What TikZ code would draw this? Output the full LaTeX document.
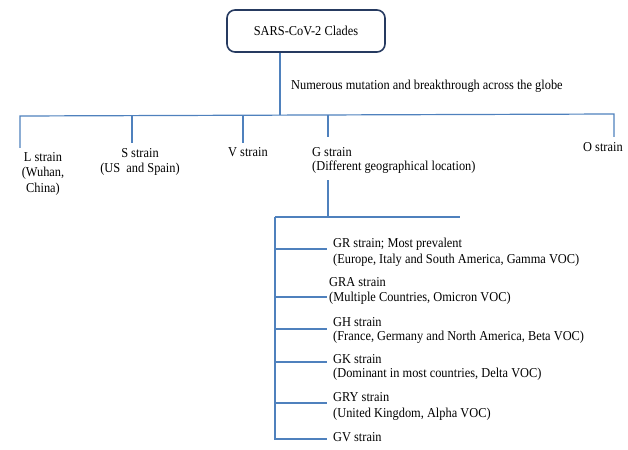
\documentclass[tikz,border=0pt]{standalone}
\usepackage{fontspec}
\setmainfont[FakeStretch=0.91]{Liberation Serif}
\definecolor{linec}{RGB}{79,129,189}
\definecolor{boxc}{RGB}{38,58,96}
\begin{document}
\begin{tikzpicture}[x=1pt,y=-1pt,
  conn/.style={draw=linec,line width=1.2pt},
  lbl/.style={inner sep=0pt,font=\fontsize{13.6}{14.5}\selectfont,text=black},
  lbll/.style={lbl,align=left,anchor=base west},
  lblc/.style={lbl,align=center,anchor=base}]
\useasboundingbox (0,0) rectangle (628,449);
\node[draw=boxc,line width=1.6pt,rounded corners=8pt,minimum width=158pt,minimum height=42pt,font=\fontsize{13.6}{15}\selectfont] (top) at (306,31) {SARS-CoV-2 Clades};
\node[lbll] (mut) at (291,90) {Numerous mutation and breakthrough across the globe};
\coordinate (hub) at (280,115);
\coordinate (Lt) at (20,116);
\coordinate (Ot) at (614,114);
\coordinate (Le) at (20,148);
\coordinate (Se) at (132,143);
\coordinate (Ve) at (243,143);
\coordinate (Ge) at (328,137);
\coordinate (Oe) at (614,137);
\draw[conn] (top.south -| hub) -- (hub);
\draw[conn] (Le) -- (Lt) -- (Ot) -- (Oe);
\draw[conn] (Se) -- (Se |- hub);
\draw[conn] (Ve) -- (Ve |- hub);
\draw[conn] (Ge) -- (Ge |- hub);
\node[lblc,font=\fontsize{13.6}{15.5}\selectfont] (L) at (43,192) {L strain\\(Wuhan,\\China)};
\node[lblc] (S) at (140,172) {S strain\\(US\ \ and Spain)};
\node[lbll] (V) at (228,157) {V strain};
\node[lbll] (G) at (312,171) {G strain\\(Different geographical location)};
\node[lbll] (O) at (583,152) {O strain};
\coordinate (Gs) at (328,180);
\coordinate (Gh) at (328,217);
\coordinate (Gl) at (275,217);
\coordinate (Gr) at (460,217);
\coordinate (Gb) at (275,440);
\draw[conn] (Gs) -- (Gh);
\draw[conn] (Gl) -- (Gr);
\draw[conn] (Gl) -- (Gb);
\foreach \y/\n in {249/a,297/b,329/c,362/d,403/e,439/f}{
  \coordinate (b\n) at (327,\y);
  \draw[conn] (275,\y) -- (b\n);
}
\node[lbll,font=\fontsize{13.6}{16}\selectfont] (GR) at (333,263) {GR strain; Most prevalent\\(Europe, Italy and South America, Gamma VOC)};
\node[lbll,font=\fontsize{13.6}{15}\selectfont] (GRA) at (329,301) {GRA strain\\(Multiple Countries, Omicron VOC)};
\node[lbll,font=\fontsize{13.6}{13.5}\selectfont] (GH) at (333,340) {GH strain\\(France, Germany and North America, Beta VOC)};
\node[lbll,font=\fontsize{13.6}{14}\selectfont] (GK) at (333,377) {GK strain\\(Dominant in most countries, Delta VOC)};
\node[lbll,font=\fontsize{13.6}{16}\selectfont] (GRY) at (333,417) {GRY strain\\(United Kingdom, Alpha VOC)};
\node[lbll] (GV) at (333,441) {GV strain};
\end{tikzpicture}
\end{document}
